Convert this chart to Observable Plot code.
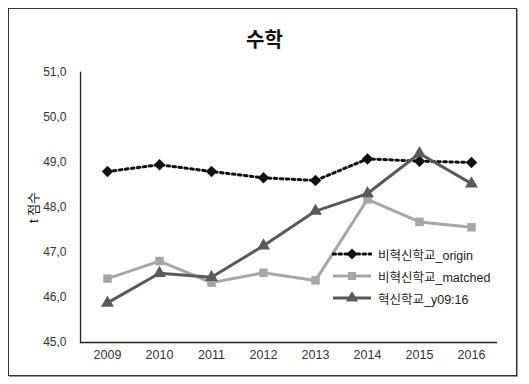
<!DOCTYPE html>
<html><head><meta charset="utf-8">
<script src="https://cdn.jsdelivr.net/npm/d3@7"></script>
<script src="https://cdn.jsdelivr.net/npm/@observablehq/plot@0.6"></script>
<style>
html,body{margin:0;padding:0;background:#fff;}
#wrap{position:relative;width:529px;height:384px;font-family:"Liberation Sans","Noto Sans CJK KR",sans-serif;}
#border{position:absolute;left:8px;top:8px;width:507px;height:366px;border:1.5px solid #333;box-shadow:1px 1px 0 #999;}
#title{position:absolute;left:0;width:529px;top:24px;text-align:center;font-size:20px;font-weight:bold;color:#111;font-family:"Noto Sans CJK KR",sans-serif;}
#chart{position:absolute;left:0;top:0;}
#legend{position:absolute;left:332px;top:243px;padding:0;font-size:12.5px;color:#222;font-family:"Liberation Sans","Noto Sans CJK KR",sans-serif;}
.row{display:flex;align-items:center;height:22px;}
.row svg{margin-right:6px;}
</style></head>
<body>
<div id="wrap">
  <div id="border"></div>
  <div id="chart"></div>
  <div id="title">수학</div>
  <div id="legend"></div>
</div>
<script>
const years = ["2009","2010","2011","2012","2013","2014","2015","2016"];
const seriesNames = ["비혁신학교_origin","비혁신학교_matched","혁신학교_y09:16"];
const origin = [48.80, 48.95, 48.80, 48.66, 48.60, 49.08, 49.03, 49.00];
const matched = [46.42, 46.81, 46.33, 46.55, 46.38, 48.18, 47.68, 47.56];
const innovation = [45.88, 46.54, 46.45, 47.15, 47.92, 48.31, 49.20, 48.53];
const yTicks = [45,46,47,48,49,50,51];

const styles = {
  "비혁신학교_origin": {color:"#111111", symbol:"diamond2", r:5.2, dash:"2.6,3.4", width:3},
  "비혁신학교_matched": {color:"#a6a6a6", symbol:"square", r:4.8, dash:null, width:3},
  "혁신학교_y09:16": {color:"#5a5a5a", symbol:"triangle", r:4.8, dash:null, width:3}
};
const allVals = [origin, matched, innovation];
const data = [];
seriesNames.forEach((s,i)=> years.forEach((y,j)=> data.push({series:s, year:y, value:allVals[i][j]})));

const marks = [];
seriesNames.forEach(s=>{
  const st = styles[s];
  const d = data.filter(r=>r.series===s);
  marks.push(Plot.line(d,{x:"year",y:"value",stroke:st.color,strokeWidth:st.width,strokeDasharray:st.dash||undefined,strokeLinecap:st.dash?"round":"butt"}));
});
seriesNames.forEach(s=>{
  const st = styles[s];
  const d = data.filter(r=>r.series===s);
  marks.push(Plot.dot(d,{x:"year",y:"value",symbol:()=>st.symbol,fill:st.color,stroke:"none",r:st.r}));
});

const chart = Plot.plot({
  width:529, height:384,
  marginLeft:80, marginRight:32, marginTop:72, marginBottom:42,
  style:{fontFamily:'"Liberation Sans","Noto Sans CJK KR",sans-serif',fontSize:"12px",color:"#333",background:"transparent"},
  x:{type:"point",domain:years,padding:0.5},
  y:{domain:[45,51]},
  symbol:{type:"identity"},
  marks:[
    Plot.axisX({tickSize:0,tickPadding:8,label:null,fontSize:12.5}),
    Plot.axisY({ticks:yTicks,tickSize:0,tickPadding:14,tickFormat:d=>d.toFixed(1).replace(".",","),label:null,fontSize:12}),
    Plot.axisY({ticks:[],tickSize:0,label:"t 점수",labelAnchor:"center",labelArrow:"none",labelOffset:52,fontSize:13,fill:"#111"}),
    Plot.frame({anchor:"left",stroke:"#222",strokeWidth:1.3}),
    Plot.ruleY([45],{stroke:"#222",strokeWidth:1.3}),
    ...marks
  ]
});
document.getElementById("chart").appendChild(chart);

// legend built from series styles
const leg = document.getElementById("legend");
seriesNames.forEach(s=>{
  const st = styles[s];
  const row = document.createElement("div"); row.className="row";
  const svg = d3.create("svg").attr("width",40).attr("height",12);
  svg.append("line").attr("x1",1).attr("x2",39).attr("y1",6).attr("y2",6)
    .attr("stroke",st.color).attr("stroke-width",st.width)
    .attr("stroke-dasharray",st.dash).attr("stroke-linecap",st.dash?"round":"butt");
  const sym = {diamond2:d3.symbolDiamond2,square:d3.symbolSquare,triangle:d3.symbolTriangle}[st.symbol];
  svg.append("path").attr("transform","translate(20,6)").attr("d",d3.symbol(sym, Math.PI*st.r*st.r*0.9)()).attr("fill",st.color);
  row.appendChild(svg.node());
  const t = document.createElement("span"); t.textContent = s; row.appendChild(t);
  leg.appendChild(row);
});
</script>
</body></html>
